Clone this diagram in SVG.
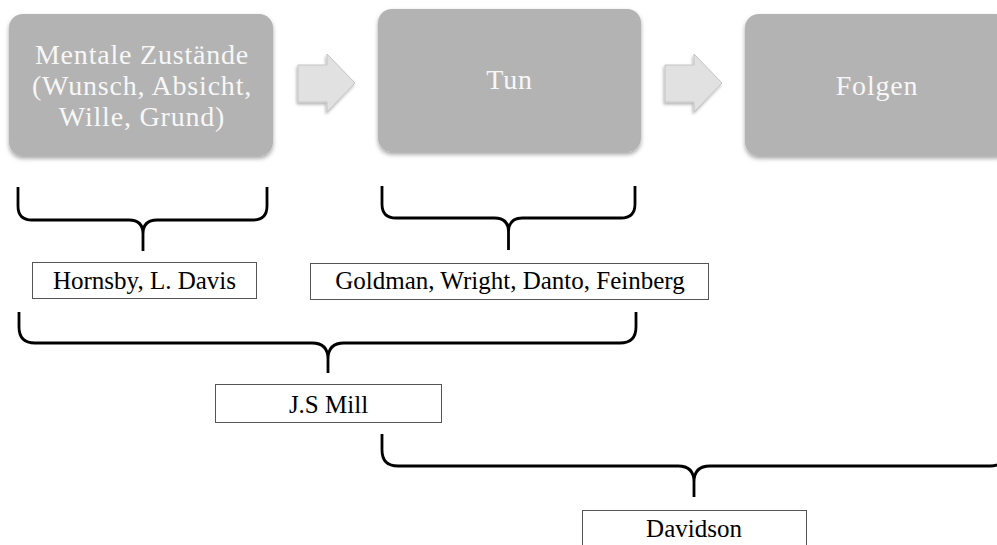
<svg xmlns="http://www.w3.org/2000/svg" width="997" height="545" viewBox="0 0 997 545">
  <defs>
    <filter id="shadow" x="-10%" y="-10%" width="130%" height="130%">
      <feDropShadow dx="0" dy="2.5" stdDeviation="2" flood-color="#000" flood-opacity="0.35"/>
    </filter>
    <filter id="ashadow" x="-20%" y="-20%" width="150%" height="150%">
      <feDropShadow dx="-1" dy="2" stdDeviation="1.5" flood-color="#000" flood-opacity="0.3"/>
    </filter>
  </defs>
  <style>
    .box { fill: #b3b3b3; filter: url(#shadow); }
    .big { font-family: "Liberation Serif", "Times New Roman", serif; font-size: 28px; letter-spacing: 0.8px; fill: #f7f7f7; text-anchor: middle; }
    .arrow { fill: #e1e1e1; stroke: #c4c4c4; stroke-width: 1; filter: url(#ashadow); }
    .brace { fill: none; stroke: #000; stroke-width: 2.8; stroke-linejoin: round; }
    .lbl { fill: #fff; stroke: #555; stroke-width: 1; }
    .small { font-family: "Liberation Serif", "Times New Roman", serif; font-size: 25px; fill: #000; text-anchor: middle; }
  </style>

  <g id="node-mentale">
    <rect class="box" x="9" y="14" width="264" height="142" rx="14"/>
    <text class="big" x="142" y="64">Mentale Zustände</text>
    <text class="big" x="142" y="95">(Wunsch, Absicht,</text>
    <text class="big" x="142" y="126">Wille, Grund)</text>
  </g>
  <g id="node-tun">
    <rect class="box" x="378" y="9" width="263" height="143" rx="14"/>
    <text class="big" x="509.5" y="89">Tun</text>
  </g>
  <g id="node-folgen">
    <rect class="box" x="745" y="14" width="264" height="142" rx="14"/>
    <text class="big" x="877" y="95">Folgen</text>
  </g>

  <g id="node-hornsby">
    <rect class="lbl" x="32.5" y="262.5" width="224" height="36"/>
    <text class="small" x="144.5" y="289">Hornsby, L. Davis</text>
  </g>
  <g id="node-goldman">
    <rect class="lbl" x="310.5" y="263.5" width="398" height="36"/>
    <text class="small" x="510" y="289">Goldman, Wright, Danto, Feinberg</text>
  </g>
  <g id="node-mill">
    <rect class="lbl" x="215.5" y="384.5" width="226" height="38"/>
    <text class="small" x="328.5" y="413">J.S Mill</text>
  </g>
  <g id="node-davidson">
    <rect class="lbl" x="582.5" y="510.5" width="224" height="40"/>
    <text class="small" x="694" y="537">Davidson</text>
  </g>

  <g id="connectors">
    <polygon class="arrow" points="298,65 327,65 327,54 355,83 327,112 327,102 298,102"/>
    <polygon class="arrow" points="665,65 694,65 694,54 722,83 694,112 694,102 665,102"/>

    <path class="brace" d="M18,187 L18,206 Q18,220 32,220 L129,220 Q143,220 143,234 L143,251 M143,234 Q143,220 157,220 L253,220 Q267,220 267,206 L267,187"/>
    <path class="brace" d="M382,186 L382,204 Q382,218 396,218 L494.5,218 Q508.5,218 508.5,232 L508.5,250 M508.5,232 Q508.5,218 522.5,218 L621,218 Q635,218 635,204 L635,186"/>
    <path class="brace" d="M19,312 L19,327 Q19,343 35,343 L312,343 Q328,343 328,359 L328,373 M328,359 Q328,343 344,343 L620,343 Q636,343 636,327 L636,312"/>
    <path class="brace" d="M382,434 L382,450 Q382,466 398,466 L678,466 Q694,466 694,482 L694,497 M694,482 Q694,466 710,466 L990,466 Q1006,466 1006,450 L1006,434"/>
  </g>
</svg>
